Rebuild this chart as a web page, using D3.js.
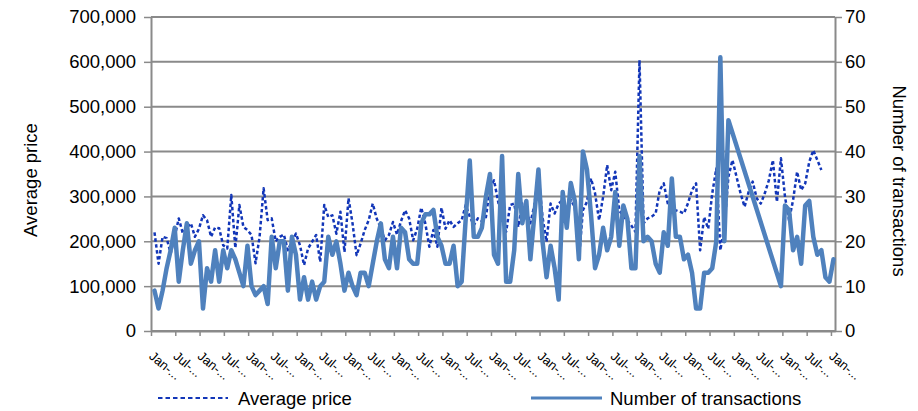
<!DOCTYPE html>
<html>
<head>
<meta charset="utf-8">
<script src="https://cdn.jsdelivr.net/npm/d3@7"></script>
<style>
  body { margin: 0; background: #fff; }
  svg { display: block; font-family: "Liberation Sans", Arial, sans-serif; }
</style>
</head>
<body>
<svg id="chart" width="918" height="411"></svg>
<script>
// monthly categories (169 months), labels on the axis are cut off by the chart
const months = d3.range(169);

const tickLabels = [
  "Jan-...", "Jul-...", "Jan-...", "Jul-...", "Jan-...", "Jul-...", "Jan-...", "Jul-...",
  "Jan-...", "Jul-...", "Jan-...", "Jul-...", "Jan-...", "Jul-...", "Jan-...", "Jul-...",
  "Jan-...", "Jul-...", "Jan-...", "Jul-...", "Jan-...", "Jul-...", "Jan-...", "Jul-...",
  "Jan-...", "Jul-...", "Jan-...", "Jul-...", "Jan-..."
];

// average price, in thousands
const avgPrice = [
  220, 150, 210, 207, 173, 210, 251, 218, 230, 240,
  210, 228, 258, 247, 210, 231, 229, 191, 184, 303,
  185, 281, 232, 225, 214, 151, 210, 318, 247, 251,
  200, 210, 215, 180, 200, 217, 191, 147, 184, 199,
  214, 154, 281, 254, 258, 217, 266, 176, 296, 240,
  169, 195, 225, 247, 284, 250, 230, 202, 214, 243,
  215, 245, 269, 251, 202, 228, 275, 240, 188, 225,
  188, 275, 228, 247, 232, 240, 247, 281, 255, 236,
  251, 245, 254, 321, 336, 290, 247, 221, 281, 284,
  232, 284, 269, 240, 281, 351, 254, 199, 284, 262,
  284, 292, 269, 292, 277, 158, 269, 288, 340, 307,
  247, 299, 370, 314, 355, 269, 255, 247, 235, 221,
  604, 240, 251, 255, 262, 314, 329, 284, 275, 269,
  266, 262, 285, 314, 329, 180, 254, 228, 307, 362,
  180, 232, 344, 381, 344, 307, 277, 310, 333, 296,
  284, 307, 336, 381, 288, 385, 299, 247, 292, 355,
  314, 329, 377, 403, 381, 359, null, null, null
];

const transactions = [
  9, 5, 9, 14, 18, 23, 11, 18, 24, 15,
  18, 20, 5, 14, 11, 18, 11, 18, 14, 18,
  16, 13, 10, 19, 10, 8, 9, 10, 6, 21,
  14, 20, 20, 9, 21, 17, 7, 12, 7, 11,
  7, 10, 11, 21, 17, 20, 15, 9, 13, 10,
  8, 13, 13, 10, 15, 20, 24, 16, 14, 21,
  14, 23, 22, 16, 15, 15, 24, 26, 26, 27,
  21, 19, 15, 15, 19, 10, 11, 25, 38, 21,
  21, 23, 30, 35, 17, 15, 39, 11, 11, 18,
  35, 24, 29, 16, 26, 36, 20, 12, 19, 14,
  7, 31, 23, 33, 29, 16, 40, 36, 26, 14,
  17, 23, 18, 21, 31, 19, 28, 25, 14, 14,
  39, 20, 21, 20, 15, 13, 22, 19, 34, 21,
  21, 16, 17, 13, 5, 5, 13, 13, 14, 20,
  61, 20, 47, null, null, null, null, null, null, null,
  null, null, null, null, null, 10, 28, 27, 18, 21,
  15, 28, 29, 21, 17, 18, 12, 11, 16
];

const priceTicks = [0, 100, 200, 300, 400, 500, 600, 700];
const countTicks = [0, 10, 20, 30, 40, 50, 60, 70];

const svg = d3.select("#chart");
const plot = { left: 151, right: 835, top: 17, bottom: 331 };
const gridColor = "#8a8a8a";
const solidColor = "#4f81bd";
const dashColor = "#1236b8";

const x = d3.scalePoint().domain(months).range([154.5, 833.5]);
const xEdge = d3.scaleLinear().domain([0, months.length]).range([plot.left, plot.right]);
const yPrice = d3.scaleLinear().domain([0, 700]).range([plot.bottom, plot.top]);
const yCount = d3.scaleLinear().domain([0, 70]).range([plot.bottom, plot.top]);

svg.append("rect").attr("width", 918).attr("height", 411).attr("fill", "#fff");

// horizontal gridlines
svg.append("g")
  .selectAll("line")
  .data(priceTicks)
  .join("line")
  .attr("x1", plot.left)
  .attr("x2", plot.right)
  .attr("y1", d => yPrice(d))
  .attr("y2", d => yPrice(d))
  .attr("stroke", gridColor)
  .attr("stroke-width", 2);

function styleAxis(g) {
  g.select(".domain").attr("stroke", gridColor).attr("stroke-width", 2);
  g.selectAll(".tick line").attr("stroke", gridColor).attr("stroke-width", 1.5);
  g.selectAll("text").attr("fill", "#000").style("font-family", "Liberation Sans, Arial, sans-serif");
}

// left axis
svg.append("g")
  .attr("transform", `translate(${plot.left},0)`)
  .call(d3.axisLeft(yPrice)
    .tickValues(priceTicks)
    .tickSize(7)
    .tickSizeOuter(0)
    .tickPadding(8)
    .tickFormat(d => d3.format(",")(d * 1000)))
  .call(styleAxis)
  .selectAll("text").style("font-size", "18.5px");

// right axis
svg.append("g")
  .attr("transform", `translate(${plot.right},0)`)
  .call(d3.axisRight(yCount)
    .tickValues(countTicks)
    .tickSize(7)
    .tickSizeOuter(0)
    .tickPadding(3))
  .call(styleAxis)
  .selectAll("text").style("font-size", "18.5px");

// bottom axis, one label every 6 months
const xAxis = svg.append("g")
  .attr("transform", `translate(0,${plot.bottom})`)
  .call(d3.axisBottom(xEdge)
    .tickValues(d3.range(0, months.length, 6))
    .tickSize(5)
    .tickSizeOuter(0)
    .tickFormat((d, i) => tickLabels[i]))
  .call(styleAxis);

xAxis.selectAll("text")
  .attr("x", 0)
  .attr("y", 0)
  .attr("dy", "0.75em")
  .attr("text-anchor", "start")
  .attr("transform", "translate(3,19) rotate(40)")
  .style("font-size", "13px");

// series
const priceLine = d3.line()
  .x(d => x(d.i))
  .y(d => yPrice(d.v));

const countLine = d3.line()
  .x(d => x(d.i))
  .y(d => yCount(d.v));

const priceData = months.map(i => ({ i, v: avgPrice[i] })).filter(d => d.v != null);
const countData = months.map(i => ({ i, v: transactions[i] })).filter(d => d.v != null);

svg.append("path")
  .datum(priceData)
  .attr("d", priceLine)
  .attr("fill", "none")
  .attr("stroke", dashColor)
  .attr("stroke-width", 2.5)
  .attr("stroke-dasharray", "3.5,2.5")
  .attr("stroke-linejoin", "round");

svg.append("path")
  .datum(countData)
  .attr("d", countLine)
  .attr("fill", "none")
  .attr("stroke", solidColor)
  .attr("stroke-width", 4.5)
  .attr("stroke-linejoin", "round")
  .attr("stroke-linecap", "round");

// axis titles
svg.append("text")
  .attr("transform", "translate(37,180) rotate(-90)")
  .attr("text-anchor", "middle")
  .style("font-size", "18.5px")
  .text("Average price");

svg.append("text")
  .attr("transform", "translate(893,181) rotate(90)")
  .attr("text-anchor", "middle")
  .style("font-size", "18.5px")
  .text("Number of transactions");

// legend
const legend = svg.append("g").style("font-size", "18.5px");

legend.append("line")
  .attr("x1", 158).attr("x2", 228).attr("y1", 398).attr("y2", 398)
  .attr("stroke", dashColor).attr("stroke-width", 2)
  .attr("stroke-dasharray", "4.5,3");
legend.append("text")
  .attr("x", 238).attr("y", 404.5)
  .text("Average price");

legend.append("line")
  .attr("x1", 531).attr("x2", 602).attr("y1", 398).attr("y2", 398)
  .attr("stroke", solidColor).attr("stroke-width", 3);
legend.append("text")
  .attr("x", 610).attr("y", 404.5)
  .text("Number of transactions");
</script>
</body>
</html>
